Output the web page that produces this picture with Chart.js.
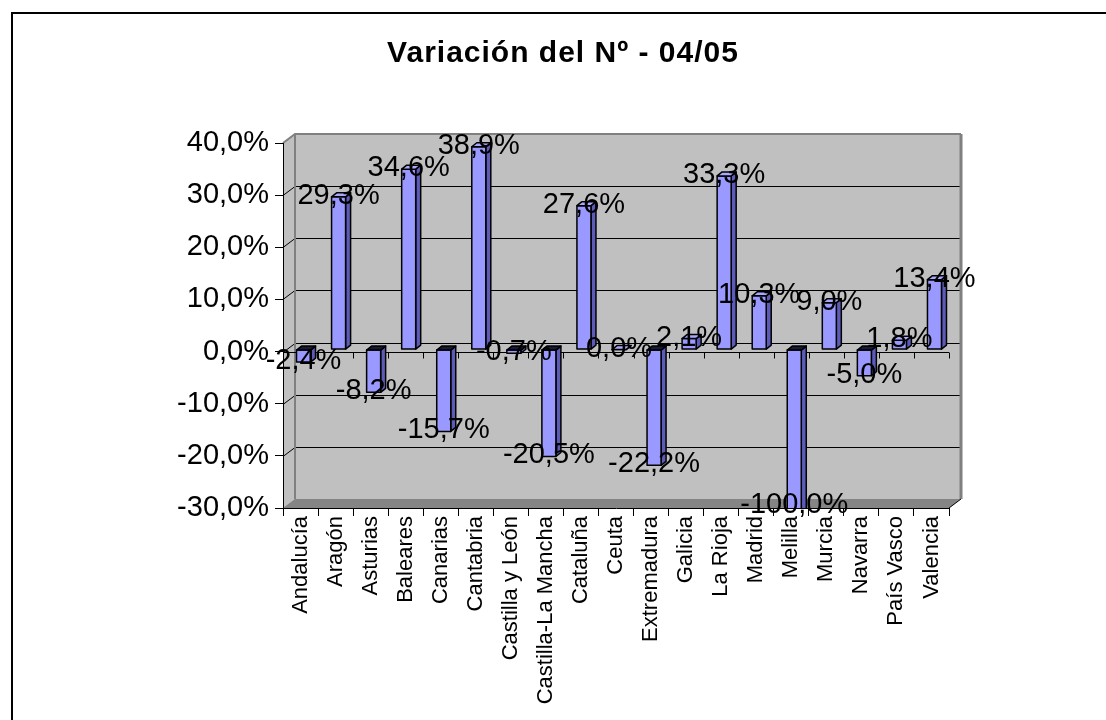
<!DOCTYPE html>
<html>
<head>
<meta charset="utf-8">
<script src="https://cdn.jsdelivr.net/npm/chart.js@4.4.0/dist/chart.umd.min.js"></script>
<style>
    html, body { margin: 0; padding: 0; background: #fff; }
    #wrap  { position: relative; width: 1106px; height: 720px; overflow: hidden; }
    #frame { position: absolute; left: 11px; top: 12px; width: 1200px; height: 800px;
             border-left: 2px solid #000; border-top: 2px solid #000; }
    canvas { position: absolute; left: 0; top: 0; }
</style>
</head>
<body>
<div id="wrap">
    <div id="frame"></div>
    <canvas id="variacion" width="1106" height="720"></canvas>
</div>
<script>
// data
const regiones = [
    'Andalucía', 'Aragón', 'Asturias', 'Baleares', 'Canarias', 'Cantabria',
    'Castilla y León', 'Castilla-La Mancha', 'Cataluña', 'Ceuta', 'Extremadura',
    'Galicia', 'La Rioja', 'Madrid', 'Melilla', 'Murcia', 'Navarra',
    'País Vasco', 'Valencia'
];
const variacion = [
    -2.4, 29.3, -8.2, 34.6, -15.7, 38.9,
    -0.7, -20.5, 27.6, 0.0, -22.2,
    2.1, 33.3, 10.3, -100.0, 9.0, -5.0,
    1.8, 13.4
];
const yMin  = -30;
const yMax  = 40;
const yStep = 10;
const titulo = 'Variación del Nº - 04/05';

const FONT = 'Arial, "Liberation Sans", sans-serif';
const pct  = v => v.toFixed(1).replace('.', ',') + '%';

// 3d look: wall depth and bar depth
const WALL_DX = 12, WALL_DY = 9;
const BAR_OX = 3, BAR_OY = -2, BAR_DX = 5, BAR_DY = 4;

function poly(ctx, pts) {
    ctx.beginPath();
    ctx.moveTo(pts[0][0], pts[0][1]);
    for (let i = 1; i < pts.length; i++) ctx.lineTo(pts[i][0], pts[i][1]);
    ctx.closePath();
}

// back wall, side wall, floor, gridlines and the title
const walls = {
    id: 'walls',
    beforeDraw(chart) {
        const {ctx, chartArea: a, scales: {y}} = chart;
        ctx.save();

        // title
        ctx.fillStyle = '#000';
        ctx.font = 'bold 30px ' + FONT;
        ctx.letterSpacing = '1px';
        ctx.textAlign = 'center';
        ctx.textBaseline = 'middle';
        ctx.fillText(titulo, (a.left + a.right) / 2 - 53, 54);
        ctx.letterSpacing = '0px';

        // walls
        ctx.fillStyle = '#c0c0c0';
        poly(ctx, [[a.left, a.top], [a.left + WALL_DX, a.top - WALL_DY],
                   [a.right + WALL_DX, a.top - WALL_DY], [a.right + WALL_DX, a.bottom - WALL_DY],
                   [a.left, a.bottom]]);
        ctx.fill();

        // floor
        ctx.fillStyle = '#858585';
        poly(ctx, [[a.left, a.bottom], [a.left + WALL_DX, a.bottom - WALL_DY],
                   [a.right + WALL_DX, a.bottom - WALL_DY], [a.right, a.bottom]]);
        ctx.fill();

        // gridlines on the back wall
        ctx.strokeStyle = '#000';
        ctx.lineWidth = 1;
        y.ticks.forEach(t => {
            if (t.value === yMin || t.value === yMax) return;
            const py = Math.round(y.getPixelForValue(t.value)) + 0.5;
            ctx.beginPath();
            ctx.moveTo(a.left, py);
            ctx.lineTo(a.left + WALL_DX, py - WALL_DY);
            ctx.lineTo(a.right + WALL_DX, py - WALL_DY);
            ctx.stroke();
        });

        // wall edges
        ctx.strokeStyle = '#808080';
        ctx.lineWidth = 2;
        ctx.beginPath();
        ctx.moveTo(a.left, a.top);
        ctx.lineTo(a.left + WALL_DX, a.top - WALL_DY);
        ctx.lineTo(a.right + WALL_DX, a.top - WALL_DY);
        ctx.stroke();
        ctx.beginPath();
        ctx.moveTo(a.left + WALL_DX, a.top - WALL_DY);
        ctx.lineTo(a.left + WALL_DX, a.bottom - WALL_DY);
        ctx.stroke();
        ctx.lineWidth = 3;
        ctx.beginPath();
        ctx.moveTo(a.right + WALL_DX, a.top - WALL_DY);
        ctx.lineTo(a.right + WALL_DX, a.bottom - WALL_DY);
        ctx.stroke();
        ctx.strokeStyle = '#000';
        ctx.lineWidth = 1;
        ctx.beginPath();
        ctx.moveTo(a.right, a.bottom);
        ctx.lineTo(a.right + WALL_DX, a.bottom - WALL_DY);
        ctx.stroke();

        // category axis at 0
        const y0 = Math.round(y.getPixelForValue(0)) + 0.5;
        ctx.beginPath();
        ctx.moveTo(a.left, y0);
        ctx.lineTo(a.right, y0);
        const step = (a.right - a.left) / regiones.length;
        for (let i = 0; i <= regiones.length; i++) {
            const px = Math.round(a.left + i * step) + 0.5;
            ctx.moveTo(px, y0);
            ctx.lineTo(px, y0 + 6);
        }
        ctx.stroke();

        ctx.restore();
    }
};

// 3d columns and the value labels
const bars3d = {
    id: 'bars3d',
    afterDatasetsDraw(chart) {
        const {ctx, chartArea: a} = chart;
        const meta = chart.getDatasetMeta(0);
        ctx.save();
        ctx.beginPath();
        ctx.rect(a.left, 0, a.right - a.left + 20, a.bottom);
        ctx.clip();
        ctx.lineWidth = 1.5;
        ctx.strokeStyle = '#000';
        ctx.lineJoin = 'round';
        meta.data.forEach((bar, i) => {
            const p = bar.getProps(['x', 'y', 'base', 'width'], true);
            const l = p.x - p.width / 2 + BAR_OX;
            const r = p.x + p.width / 2 + BAR_OX;
            const t = Math.min(p.y, p.base) + BAR_OY;
            const b = Math.max(p.y, p.base) + BAR_OY;
            const neg = variacion[i] < 0;

            // side
            ctx.fillStyle = '#5c5cb8';
            poly(ctx, [[r, t], [r + BAR_DX, t - BAR_DY], [r + BAR_DX, b - BAR_DY], [r, b]]);
            ctx.fill(); ctx.stroke();
            // front
            ctx.fillStyle = '#9999ff';
            poly(ctx, [[l, t], [r, t], [r, b], [l, b]]);
            ctx.fill(); ctx.stroke();
            // top
            ctx.fillStyle = neg ? '#1a1a33' : '#a8a8ff';
            poly(ctx, [[l, t], [l + BAR_DX, t - BAR_DY], [r + BAR_DX, t - BAR_DY], [r, t]]);
            ctx.fill(); ctx.stroke();
        });
        ctx.restore();

        ctx.save();
        ctx.fillStyle = '#000';
        ctx.font = '29px ' + FONT;
        ctx.textAlign = 'center';
        ctx.textBaseline = 'middle';
        meta.data.forEach((bar, i) => {
            const p = bar.getProps(['x', 'y'], true);
            const py = Math.min(Math.max(p.y, a.top), a.bottom) - 3;
            ctx.fillText(pct(variacion[i]), p.x + BAR_OX, py);
        });
        ctx.restore();
    }
};

const data = {
    labels: regiones,
    datasets: [{
        data: variacion,
        backgroundColor: 'rgba(0,0,0,0)',
        borderWidth: 0,
        barPercentage: 0.4,
        categoryPercentage: 1.0
    }]
};

const config = {
    type: 'bar',
    data: data,
    options: {
        responsive: false,
        animation: false,
        layout: { padding: { left: 177, right: 157, top: 143, bottom: 0 } },
        plugins: {
            legend: { display: false },
            title: { display: false },
            tooltip: { enabled: false }
        },
        scales: {
            x: {
                ticks: {
                    color: '#000',
                    font: { family: FONT, size: 22 },
                    minRotation: 90,
                    maxRotation: 90,
                    autoSkip: false,
                    padding: 0
                },
                grid: { drawOnChartArea: false, offset: true, tickLength: 8, color: '#000' },
                border: { color: '#000', width: 1 },
                afterFit(scale) { scale.height = 212; }
            },
            y: {
                min: yMin,
                max: yMax,
                ticks: {
                    stepSize: yStep,
                    color: '#000',
                    font: { family: FONT, size: 29 },
                    padding: 6,
                    callback: v => pct(v)
                },
                grid: { drawOnChartArea: false, tickLength: 8, color: '#000' },
                border: { color: '#000', width: 1 },
                afterFit(scale) { scale.width = 106; }
            }
        }
    },
    plugins: [walls, bars3d]
};

let variacionChart = new Chart(document.getElementById('variacion'), config);
</script>
</body>
</html>
